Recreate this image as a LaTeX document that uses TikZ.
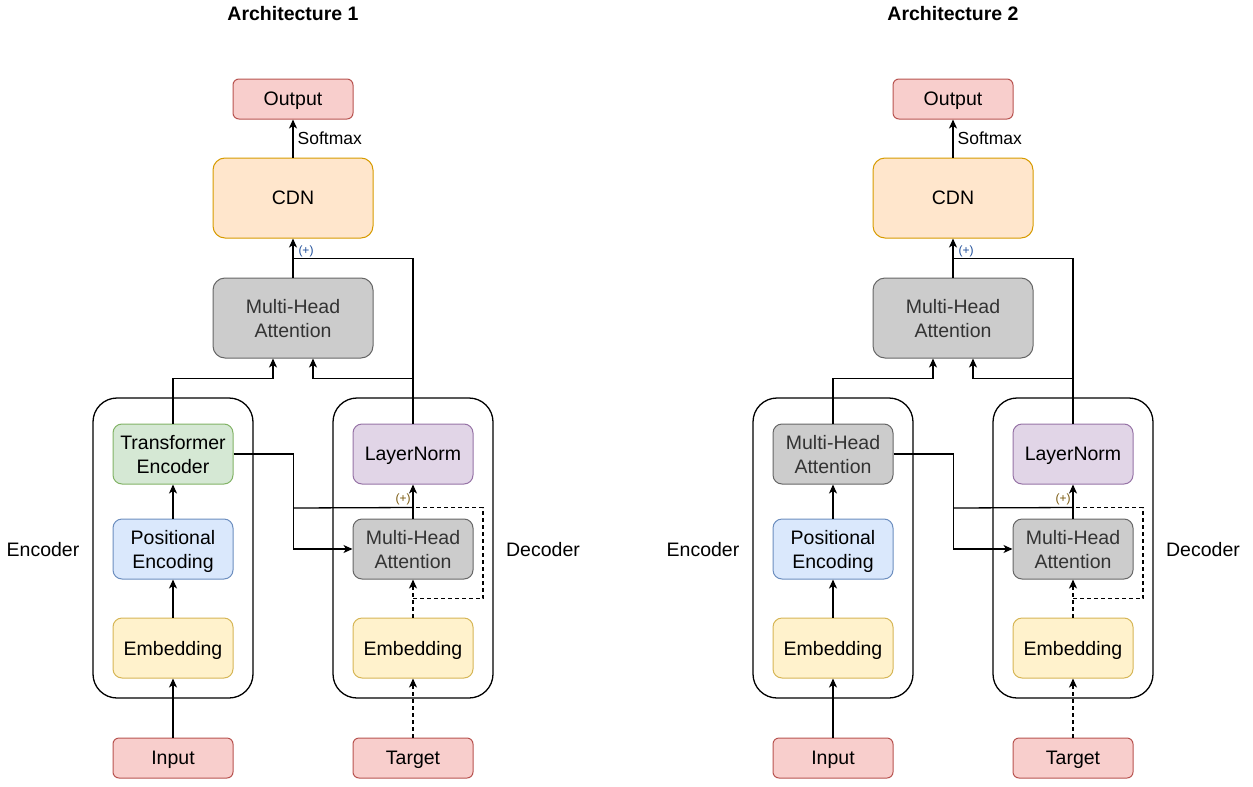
\documentclass[tikz,border=0pt]{standalone}
\usepackage{fontspec}
\setmainfont{Liberation Sans}
\usetikzlibrary{arrows.meta,calc}
\definecolor{pinkF}{HTML}{F8CECC}\definecolor{pinkD}{HTML}{B85450}
\definecolor{orgF}{HTML}{FFE6CC}\definecolor{orgD}{HTML}{D79B00}
\definecolor{gryF}{HTML}{CCCCCC}\definecolor{gryD}{HTML}{666666}\definecolor{gryT}{HTML}{333333}
\definecolor{grnF}{HTML}{D5E8D4}\definecolor{grnD}{HTML}{82B366}
\definecolor{bluF}{HTML}{DAE8FC}\definecolor{bluD}{HTML}{6C8EBF}
\definecolor{yelF}{HTML}{FFF2CC}\definecolor{yelD}{HTML}{D6B656}
\definecolor{purF}{HTML}{E1D5E7}\definecolor{purD}{HTML}{9673A6}
\definecolor{plusA}{HTML}{1F4E9A}\definecolor{plusB}{HTML}{7A5A10}
\tikzset{
  base/.style={draw,line width=1pt,align=center,inner sep=0pt,text depth=0pt,
    font=\fontsize{19.5}{24}\selectfont},
  sbox/.style={base,minimum width=120pt,minimum height=40pt,rounded corners=6pt},
  mbox/.style={base,minimum width=120pt,minimum height=60pt,rounded corners=9pt},
  lbox/.style={base,minimum width=160pt,minimum height=80pt,rounded corners=12pt},
  pinkbox/.style={fill=pinkF,draw=pinkD},
  orgbox/.style={fill=orgF,draw=orgD},
  graybox/.style={fill=gryF,draw=gryD,text=gryT},
  gbox/.style={fill=grnF,draw=grnD},
  bbox/.style={fill=bluF,draw=bluD},
  ybox/.style={fill=yelF,draw=yelD},
  pbox/.style={fill=purF,draw=purD},
  container/.style={draw,line width=1.3pt,minimum width=160pt,minimum height=300pt,rounded corners=24pt},
  conn/.style={line width=1.3pt},
  arr/.style={conn,-{Stealth[length=9pt,width=8pt,inset=2.5pt]}},
  darr/.style={arr,dash pattern=on 4pt off 3pt},
  dline/.style={conn,dash pattern=on 4pt off 3pt},
  lbl/.style={font=\fontsize{19.5}{24}\selectfont,text depth=0pt,inner sep=0pt},
  plus/.style={font=\fontsize{12}{14}\selectfont,inner sep=0pt},
}
\begin{document}
\begin{tikzpicture}[x=1pt,y=-1pt]
\useasboundingbox (0,0) rectangle (1253,787);
\foreach \o/\s/\et/\es/\tt in {0/a/{Transformer\\Encoder}/gbox/1, 660/b/{Multi-Head\\Attention}/graybox/2}{
  \node[font=\bfseries\fontsize{19.5}{24}\selectfont,text depth=0pt,inner sep=0pt] (title\s) at (293+\o,13) {Architecture \tt};
  \node[sbox,pinkbox] (out\s) at (293+\o,99) {Output};
  \node[lbox,orgbox] (cdn\s) at (293+\o,198) {CDN};
  \node[lbox,graybox] (mha\s) at (293+\o,318) {Multi-Head\\Attention};
  \node[container] (encbox\s) at (173+\o,548) {};
  \node[container] (decbox\s) at (413+\o,548) {};
  \node[mbox,\es] (te\s) at (173+\o,454) {\et};
  \node[mbox,bbox] (pe\s) at (173+\o,549) {Positional\\Encoding};
  \node[mbox,ybox] (embA\s) at (173+\o,648) {Embedding};
  \node[sbox,pinkbox] (inp\s) at (173+\o,758) {Input};
  \node[mbox,pbox] (ln\s) at (413+\o,454) {LayerNorm};
  \node[mbox,graybox] (dmha\s) at (413+\o,549) {Multi-Head\\Attention};
  \node[mbox,ybox] (embB\s) at (413+\o,648) {Embedding};
  \node[sbox,pinkbox] (tgt\s) at (413+\o,758) {Target};
  \node[lbl] (enclbl\s) at (43+\o,549) {Encoder};
  \node[lbl] (declbl\s) at (543+\o,549) {Decoder};
  % connectors
  \draw[arr] (cdn\s.north) -- node[right,font=\fontsize{17.5}{20}\selectfont,inner sep=4pt] (sm\s) {Softmax} (out\s.south);
  \draw[arr] (mha\s.north) -- (cdn\s.south);
  \node[plus,text=plusA] (plA\s) at (306+\o,251) {(+)};
  \draw[conn] (ln\s.north) |- ($(cdn\s.south)+(0,20)$);
  \draw[arr] (te\s.north) |- ($(mha\s.south)+(-20,20)$) -- ($(mha\s.south)+(-20,0)$);
  \draw[arr] (ln\s.north) |- ($(mha\s.south)+(20,20)$) -- ($(mha\s.south)+(20,0)$);
  \draw[arr] (te\s.east) -- ($(te\s.east)+(60,0)$) |- (dmha\s.west);
  \coordinate (j1\s) at ($(te\s.east)+(60,54)$);
  \coordinate (j2\s) at ($(dmha\s.north)+(0,-11)$);
  \coordinate (j3\s) at ($(dmha\s.south)+(0,19)$);
  \draw[conn] (j1\s) -- (j2\s);
  \draw[arr] (dmha\s.north) -- (ln\s.south);
  \node[plus,text=plusB] (plB\s) at (403+\o,499) {(+)};
  \draw[darr] (embB\s.north) -- (dmha\s.south);
  \draw[dline] (j3\s) -- ++(70,0) |- (j2\s);
  \draw[darr] (tgt\s.north) -- (embB\s.south);
  \draw[arr] (inp\s.north) -- (embA\s.south);
  \draw[arr] (embA\s.north) -- (pe\s.south);
  \draw[arr] (pe\s.north) -- (te\s.south);
}
\end{tikzpicture}
\end{document}
